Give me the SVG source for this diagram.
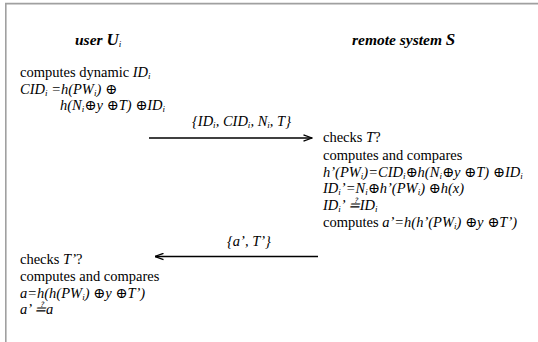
<svg xmlns="http://www.w3.org/2000/svg" width="538" height="342" viewBox="0 0 538 342" font-family="'Liberation Serif', 'Times New Roman', 'DejaVu Serif', serif">
<defs>
<style>
.t{font-family:'Liberation Serif','Times New Roman','DejaVu Serif',serif;font-size:14.5px;fill:#000}
.i{font-style:italic}
.s{font-size:9px;baseline-shift:-1.5px}
.h{font-family:'Liberation Serif','Times New Roman','DejaVu Serif',serif;font-size:15.5px;font-weight:bold;font-style:italic;fill:#000}
.big{font-size:17px}
.conn{stroke:#000;stroke-width:1.3;fill:none}
.frame{stroke:#a0a0a0;stroke-width:1.6;fill:none}
</style>
<marker id="ah" viewBox="0 0 10 8" refX="9.5" refY="4" markerWidth="10" markerHeight="8" markerUnits="userSpaceOnUse" orient="auto">
<path d="M1,0.8 L9.5,4 L1,7.2" fill="none" stroke="#000" stroke-width="1.3"/>
</marker>
</defs>
<rect width="538" height="342" fill="#fff"/>
<path class="frame" d="M5.8,342 V3.6 H538"/>

<g id="user-header"><text class="h" x="75" y="45">user <tspan class="big">U</tspan><tspan class="s" style="font-weight:normal">i</tspan></text></g>
<g id="server-header"><text class="h" x="352" y="45">remote system <tspan class="big">S</tspan></text></g>

<g id="user-step1">
<text class="t" x="20" y="77">computes dynamic <tspan class="i">ID</tspan><tspan class="s i">i</tspan></text>
<text class="t i" x="20" y="93.5">CID<tspan class="s">i</tspan> =h(PW<tspan class="s">i</tspan>) ⊕</text>
<text class="t i" x="60" y="110">h(N<tspan class="s">i</tspan>⊕y ⊕T) ⊕ID<tspan class="s">i</tspan></text>
</g>

<g id="server-step">
<text class="t" x="323" y="142">checks <tspan class="i">T</tspan>?</text>
<text class="t" x="323" y="159.5">computes and compares</text>
<text class="t i" x="323" y="176.5">h’(PW<tspan class="s">i</tspan>)=CID<tspan class="s">i</tspan>⊕h(N<tspan class="s">i</tspan>⊕y ⊕T) ⊕ID<tspan class="s">i</tspan></text>
<text class="t i" x="323" y="193">ID<tspan class="s">i</tspan>’=N<tspan class="s">i</tspan>⊕h’(PW<tspan class="s">i</tspan>) ⊕h(x)</text>
<text class="t i" x="323" y="210">ID<tspan class="s">i</tspan>’ ≟ID<tspan class="s">i</tspan></text>
<text class="t" x="323" y="227">computes <tspan class="i">a’=h(h’(PW</tspan><tspan class="s i">i</tspan><tspan class="i">) ⊕y ⊕T’)</tspan></text>
</g>

<g id="user-step2">
<text class="t" x="20" y="264">checks <tspan class="i">T’</tspan>?</text>
<text class="t" x="20" y="281">computes and compares</text>
<text class="t i" x="20" y="297.5">a=h(h(PW<tspan class="s">i</tspan>) ⊕y ⊕T’)</text>
<text class="t i" x="20" y="314">a’ ≟a</text>
</g>

<g id="connectors">
<line class="conn" x1="149" y1="138" x2="312" y2="138" marker-end="url(#ah)"/>
<text class="t i" x="192" y="126">{ID<tspan class="s">i</tspan>, CID<tspan class="s">i</tspan>, N<tspan class="s">i</tspan>, T}</text>
<line class="conn" x1="318" y1="256.5" x2="155" y2="256.5" marker-end="url(#ah)"/>
<text class="t i" x="227" y="246">{a’, T’}</text>
</g>
</svg>
